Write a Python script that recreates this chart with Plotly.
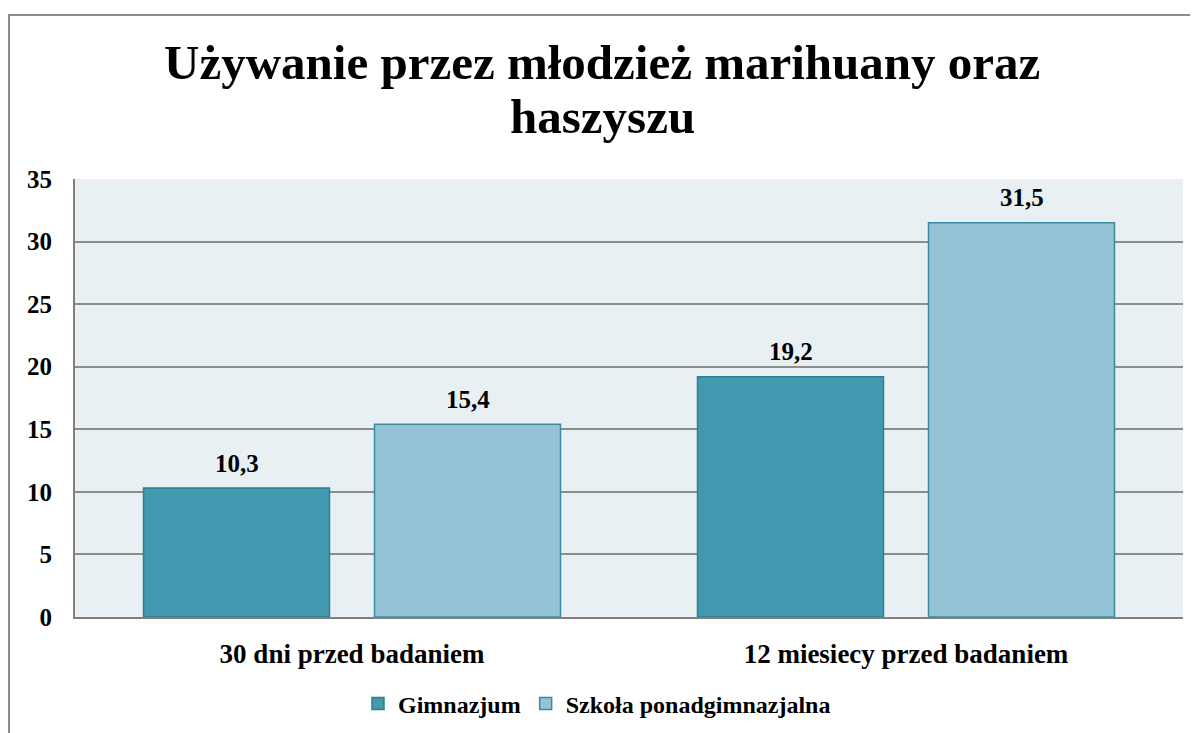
import plotly.graph_objects as go

categories = ["30 dni przed badaniem", "12 miesiecy przed badaniem"]
series_names = ["Gimnazjum", "Szkoła ponadgimnazjalna"]
gimnazjum = [10.3, 19.2]
ponadgimnazjalna = [15.4, 31.5]
y_ticks = [0, 5, 10, 15, 20, 25, 30, 35]
title_lines = ["Używanie przez młodzież marihuany oraz", "haszyszu"]

FONT = "Liberation Serif, Times New Roman, serif"

def fmt(v):
    return f"<b>{v:.1f}</b>".replace(".", ",")

# page has 8px body margin; figure sits at (8, 8)
OFF = 8
W, H = 1198 - OFF, 733 - OFF
PL, PR, PT, PB = 75, 1183, 179, 617  # target plot area in screenshot px
L, T = PL - OFF, PT - OFF
R, B = W - (PR - OFF), H - (PB - OFF)
pw, ph = W - L - R, H - T - B

def px_x(x):
    return (x - PL) / pw

def px_y(y):
    return (PB - y) / ph

fig = go.Figure()
fig.add_trace(go.Bar(
    x=categories, y=gimnazjum, name=f"<b>{series_names[0]}</b>",
    marker=dict(color="#4299B0", line=dict(color="#2F7E92", width=1.5)),
))
fig.add_trace(go.Bar(
    x=categories, y=ponadgimnazjalna, name=f"<b>{series_names[1]}</b>",
    marker=dict(color="#93C3D4", line=dict(color="#3A8BA1", width=1.5)),
))

slot_px = 231
for vals, shift in ((gimnazjum, -slot_px / 2), (ponadgimnazjalna, slot_px / 2)):
    for c, v in zip(categories, vals):
        fig.add_annotation(x=c, y=v, xref="x", yref="y", text=fmt(v),
                           showarrow=False, xshift=shift, yshift=25,
                           yanchor="middle",
                           font=dict(family=FONT, size=25, color="black"))

# title as two lines
for line, ypx in zip(title_lines, (62, 117)):
    fig.add_annotation(x=px_x(602), xref="paper", y=px_y(ypx), yref="paper",
                       text=f"<b>{line}</b>", showarrow=False,
                       xanchor="center", yanchor="middle",
                       font=dict(family=FONT, size=49, color="black"))

fig.update_layout(
    width=W, height=H,
    margin=dict(l=L, r=R, t=T, b=B, autoexpand=False),
    paper_bgcolor="white", plot_bgcolor="#E8F0F4",
    barmode="group", bargap=0.166, bargroupgap=0.195,
    font=dict(family=FONT, color="black"),
    legend=dict(orientation="h", x=px_x(597), xanchor="center",
                y=px_y(704), yanchor="middle",
                font=dict(family=FONT, size=24, color="black"),
                itemwidth=30, traceorder="normal"),
    showlegend=True,
)
fig.update_xaxes(
    automargin=False,
    showline=True, linecolor="#7F7F7F", linewidth=2,
    tickfont=dict(family=FONT, size=27, color="black"),
    ticks="outside", ticklen=12, tickcolor="rgba(0,0,0,0)",
    tickprefix="<b>", ticksuffix="</b>",
)
fig.update_yaxes(
    automargin=False,
    range=[0, 35], tickvals=y_ticks, ticktext=[f"<b>{t}</b>" for t in y_ticks],
    showgrid=True, gridcolor="#8C8C8C", gridwidth=2,
    showline=True, linecolor="#7F7F7F", linewidth=2,
    zeroline=False,
    tickfont=dict(family=FONT, size=25, color="black"),
    ticks="outside", ticklen=16, tickcolor="rgba(0,0,0,0)",
)
# outer chart border
fig.add_shape(type="rect", xref="paper", yref="paper",
              x0=px_x(9), x1=px_x(1220),
              y0=px_y(760), y1=px_y(15),
              line=dict(color="#8C8C8C", width=2), fillcolor="rgba(0,0,0,0)", layer="below")

fig.write_html("out.html")
